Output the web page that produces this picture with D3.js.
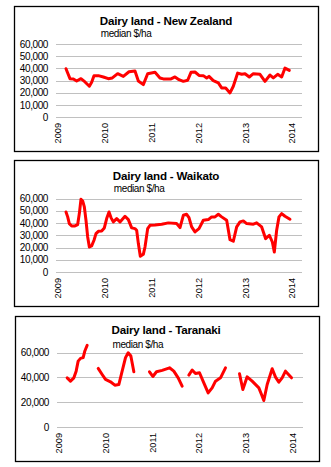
<!DOCTYPE html>
<html><head><meta charset="utf-8">
<script src="https://cdn.jsdelivr.net/npm/d3@7"></script>
<style>body{margin:0;background:#fff}svg{display:block}text{font-family:"Liberation Sans",Arial,sans-serif;fill:#000}</style>
</head><body>
<script>
// ---- data ----
const yearTicks = [2009, 2010, 2011, 2012, 2013, 2014];
const ticksNZ = [0, 10000, 20000, 30000, 40000, 50000, 60000];
const ticksWaikato = [0, 10000, 20000, 30000, 40000, 50000, 60000];
const ticksTaranaki = [0, 20000, 40000, 60000];

const nzYears = [2009.171,2009.207,2009.256,2009.328,2009.399,2009.491,2009.577,2009.670,2009.719,2009.769,2009.862,2009.969,2010.075,2010.161,2010.275,2010.396,2010.517,2010.645,2010.717,2010.823,2010.916,2011.073,2011.179,2011.251,2011.415,2011.500,2011.585,2011.678,2011.771,2011.842,2011.927,2012.013,2012.105,2012.177,2012.226,2012.319,2012.426,2012.497,2012.583,2012.675,2012.746,2012.839,2012.925,2012.996,2013.088,2013.174,2013.316,2013.423,2013.530,2013.601,2013.694,2013.779,2013.850,2013.943];
const nzValues = [39700,36100,31500,31300,29600,31500,28800,25300,28500,34000,34000,32900,31500,32100,35600,33400,37200,37800,29600,26600,35600,36700,32100,31300,31300,32900,30700,29300,30200,36700,37000,34200,34000,32100,33400,29900,28000,23900,23900,19800,25300,36100,35100,35600,32900,35600,35100,29300,34500,32100,35100,32900,40200,38300];

const waikatoYears = [2009.171,2009.207,2009.242,2009.292,2009.363,2009.420,2009.456,2009.491,2009.527,2009.563,2009.598,2009.634,2009.670,2009.719,2009.769,2009.812,2009.862,2009.933,2009.990,2010.040,2010.090,2010.132,2010.182,2010.254,2010.325,2010.432,2010.503,2010.574,2010.645,2010.681,2010.717,2010.759,2010.823,2010.859,2010.916,2010.966,2011.073,2011.215,2011.358,2011.536,2011.607,2011.678,2011.749,2011.799,2011.856,2011.927,2012.013,2012.105,2012.212,2012.283,2012.355,2012.426,2012.497,2012.604,2012.675,2012.746,2012.818,2012.889,2012.960,2013.031,2013.174,2013.245,2013.352,2013.437,2013.516,2013.580,2013.622,2013.672,2013.722,2013.779,2013.850,2013.957];
const waikatoValues = [49000,45000,39500,37600,37600,38700,47700,59400,58000,53100,42200,28600,20400,21300,25900,31300,33200,33500,36000,43600,49000,44400,40900,43600,40900,45500,42800,36000,35400,34100,23200,12800,14400,20400,35400,38100,38400,39000,40100,39500,36200,46300,47100,44400,36800,32700,35400,42200,42800,45000,45000,47100,45000,42200,26400,25100,36800,40900,41700,39500,39000,40100,36800,27200,30000,24500,16300,34100,45000,47700,45500,43100];

const taranakiYears = [2009.185,2009.256,2009.328,2009.377,2009.420,2009.470,2009.527,2009.563,2009.613,2009.73,
  2009.848,2009.933,2010.004,2010.111,2010.204,2010.289,2010.360,2010.432,2010.489,2010.546,2010.610,2010.78,
  2010.944,2011.016,2011.094,2011.215,2011.372,2011.464,2011.557,2011.642,2011.71,
  2011.785,2011.856,2011.927,2012.013,2012.105,2012.198,2012.283,2012.355,2012.462,2012.568,2012.72,
  2012.868,2012.939,2013.031,2013.138,2013.281,2013.338,2013.387,2013.459,2013.566,2013.637,2013.708,2013.779,2013.850,2013.979];
const taranakiValues = [39700,37000,39700,45100,53200,55400,56000,61400,66000,null,
  47300,42400,38400,36500,33800,34300,45100,56000,60000,57300,44600,null,
  44600,40800,44600,45700,47800,45100,39700,33000,null,
  41900,46000,43200,43800,35700,27600,31600,37000,39700,47800,null,
  43000,30300,40500,37000,31600,26200,21400,34300,47000,40300,36200,39700,45100,39700];

const titles = ["Dairy land - New Zealand", "Dairy land - Waikato", "Dairy land - Taranaki"];
const subtitle = "median $/ha";

// ---- drawing ----
const svg = d3.select("body").append("svg").attr("width", 331).attr("height", 467);
const FONT = "'Liberation Sans',Arial,sans-serif";

const panels = [
  {title: titles[0], years: nzYears, values: nzValues, ticks: ticksNZ,
   frame: [14, 6, 318, 151], px: [56, 302], yx: [58, 292], y0: 117, y60: 44, tb: 25, sb: 37, tr: 48},
  {title: titles[1], years: waikatoYears, values: waikatoValues, ticks: ticksWaikato,
   frame: [14, 160, 318, 306], px: [56, 302], yx: [58, 292], y0: 272, y60: 198.5, tb: 180, sb: 192, tr: 48},
  {title: titles[2], years: taranakiYears, values: taranakiValues, ticks: ticksTaranaki,
   frame: [15, 316, 319, 461], px: [57, 303], yx: [58.5, 292.5], y0: 427, y60: 352.7, tb: 334, sb: 348, tr: 49}
];

panels.forEach(p => {
  const g = svg.append("g");
  const x = d3.scaleLinear().domain([2009, 2014]).range(p.yx);
  const y = d3.scaleLinear().domain([0, 60000]).range([p.y0, p.y60]);

  g.append("rect").attr("x", p.frame[0] + 0.5).attr("y", p.frame[1] + 0.5)
    .attr("width", p.frame[2] - p.frame[0]).attr("height", p.frame[3] - p.frame[1])
    .attr("fill", "#fff").attr("stroke", "#000").attr("stroke-width", 1.3);

  // gridlines
  g.selectAll("line.grid").data(p.ticks).join("line")
    .attr("x1", p.px[0]).attr("x2", p.px[1])
    .attr("y1", d => Math.round(y(d)) + 0.5).attr("y2", d => Math.round(y(d)) + 0.5)
    .attr("stroke", "#c0c0c0").attr("stroke-width", 1);

  // y-axis labels
  const yAxis = d3.axisLeft(y).tickValues(p.ticks).tickSize(0).tickPadding(0)
    .tickFormat(d3.format(","));
  const ya = g.append("g").attr("transform", `translate(${p.tr},0)`).call(yAxis);
  ya.select(".domain").remove();
  ya.attr("font-family", FONT).attr("font-size", 10);
  ya.selectAll("text").attr("letter-spacing", -0.4).attr("fill", "#000");

  // x-axis year labels (rotated, reading upward)
  g.selectAll("text.yr").data(yearTicks).join("text").attr("class", "yr")
    .attr("transform", d => "translate(" + (x(d) + 3.4) + "," + (p.y0 + 6) + ") rotate(-90)")
    .attr("text-anchor", "end").attr("font-size", 9.2).attr("font-family", FONT)
    .text(d => d3.format("d")(d));

  // title
  const t = g.append("text").attr("x", 166).attr("y", p.tb).attr("text-anchor", "middle")
    .attr("font-size", 11.6).attr("font-weight", "bold").attr("letter-spacing", -0.2).text(p.title);
  const bb = t.node().getBBox();
  g.append("text").attr("x", bb.x + 1).attr("y", p.sb).attr("font-size", 10)
    .attr("letter-spacing", -0.4).text(subtitle);

  // line
  const pts = p.years.map((yr, i) => ({yr, v: p.values[i]}));
  const line = d3.line().defined(d => d.v !== null).x(d => x(d.yr)).y(d => y(d.v));
  g.append("path").datum(pts).attr("d", line).attr("fill", "none")
    .attr("stroke", "#ff0000").attr("stroke-width", 3)
    .attr("stroke-linejoin", "round").attr("stroke-linecap", "round");
});
</script>
</body></html>
